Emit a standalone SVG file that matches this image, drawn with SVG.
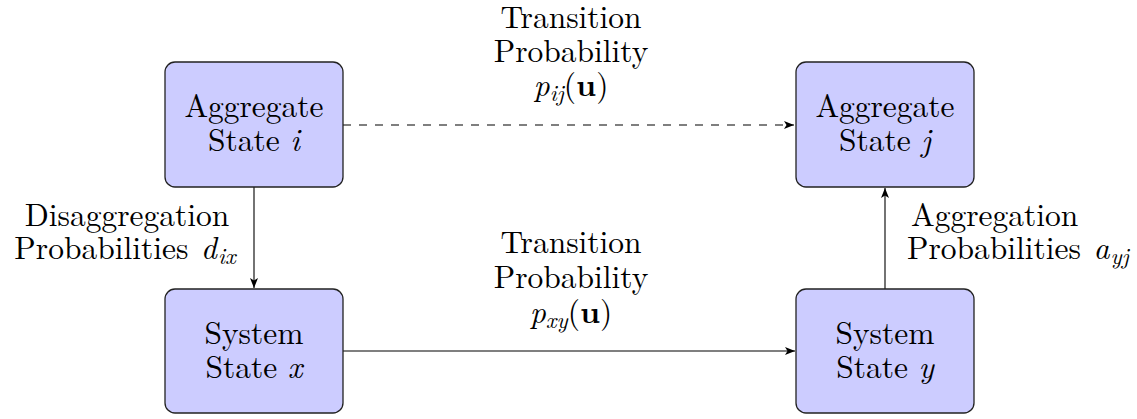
<svg xmlns="http://www.w3.org/2000/svg" width="1137" height="419" viewBox="0 0 1137 419">
<style>
.box{fill:#ccccff;stroke:#222;stroke-width:1.3}
.c{text-anchor:middle}
.i{font-style:italic}
.s{font-style:italic;font-size:23px}
.b{font-weight:bold}
.ln{stroke:#000;stroke-width:1.1;fill:none}
</style>
<defs>
<marker id="ah" viewBox="0 0 10 8" refX="10" refY="4" markerWidth="10" markerHeight="8" markerUnits="userSpaceOnUse" orient="auto">
<path d="M0,0 L10,4 L0,8 L2.5,4 Z" fill="#000"/>
</marker>
</defs>
<g id="connectors">
<line class="ln" x1="343" y1="125" x2="794" y2="125" stroke-dasharray="8 8" stroke="#333" marker-end="url(#ah)"/>
<line class="ln" x1="254" y1="187" x2="254" y2="288" marker-end="url(#ah)"/>
<line class="ln" x1="343" y1="351" x2="795" y2="351" marker-end="url(#ah)"/>
<line class="ln" x1="885" y1="289" x2="885" y2="188" marker-end="url(#ah)"/>
</g>
<g id="agg-i" font-family="Latin Modern Roman, Liberation Serif, serif" font-size="31.5">
<rect class="box" x="165" y="62" width="178" height="125" rx="10"/>
<text class="c" x="254" y="117" font-family="Latin Modern Roman, Liberation Serif, serif" font-size="31.5">Aggregate</text>
<text class="c" x="254" y="151" font-family="Latin Modern Roman, Liberation Serif, serif" font-size="31.5">State <tspan class="i">i</tspan></text>
</g>
<g id="agg-j" font-family="Latin Modern Roman, Liberation Serif, serif" font-size="31.5">
<rect class="box" x="796" y="62" width="178" height="125" rx="10"/>
<text class="c" x="885" y="117" font-family="Latin Modern Roman, Liberation Serif, serif" font-size="31.5">Aggregate</text>
<text class="c" x="885" y="151" font-family="Latin Modern Roman, Liberation Serif, serif" font-size="31.5">State <tspan class="i">j</tspan></text>
</g>
<g id="sys-x" font-family="Latin Modern Roman, Liberation Serif, serif" font-size="31.5">
<rect class="box" x="165" y="289" width="178" height="124" rx="10"/>
<text class="c" x="254" y="344" font-family="Latin Modern Roman, Liberation Serif, serif" font-size="31.5">System</text>
<text class="c" x="254" y="378" font-family="Latin Modern Roman, Liberation Serif, serif" font-size="31.5">State <tspan class="i">x</tspan></text>
</g>
<g id="sys-y" font-family="Latin Modern Roman, Liberation Serif, serif" font-size="31.5">
<rect class="box" x="796" y="289" width="178" height="124" rx="10"/>
<text class="c" x="885" y="344" font-family="Latin Modern Roman, Liberation Serif, serif" font-size="31.5">System</text>
<text class="c" x="885" y="378" font-family="Latin Modern Roman, Liberation Serif, serif" font-size="31.5">State <tspan class="i">y</tspan></text>
</g>
<g id="labels" font-family="Latin Modern Roman, Liberation Serif, serif" font-size="31.5">
<text class="c" x="571" y="28" font-family="Latin Modern Roman, Liberation Serif, serif" font-size="31.5">Transition</text>
<text class="c" x="571" y="62" font-family="Latin Modern Roman, Liberation Serif, serif" font-size="31.5">Probability</text>
<text class="c" x="571" y="96" font-family="Latin Modern Roman, Liberation Serif, serif" font-size="31.5"><tspan class="i">p</tspan><tspan class="s" dy="5">ij</tspan><tspan dy="-5">(</tspan><tspan class="b">u</tspan>)</text>
<text class="c" x="571" y="253" font-family="Latin Modern Roman, Liberation Serif, serif" font-size="31.5">Transition</text>
<text class="c" x="571" y="288" font-family="Latin Modern Roman, Liberation Serif, serif" font-size="31.5">Probability</text>
<text class="c" x="571" y="323" font-family="Latin Modern Roman, Liberation Serif, serif" font-size="31.5"><tspan class="i">p</tspan><tspan class="s" dy="5">xy</tspan><tspan dy="-5">(</tspan><tspan class="b">u</tspan>)</text>
<text class="c" x="127" y="226" font-family="Latin Modern Roman, Liberation Serif, serif" font-size="31.5">Disaggregation</text>
<text class="c" x="125" y="259" font-family="Latin Modern Roman, Liberation Serif, serif" font-size="31.5">Probabilities <tspan class="i" dx="2">d</tspan><tspan class="s" dy="5" dx="1">ix</tspan></text>
<text x="911" y="226" font-family="Latin Modern Roman, Liberation Serif, serif" font-size="31.5">Aggregation</text>
<text x="907" y="259" font-family="Latin Modern Roman, Liberation Serif, serif" font-size="31.5">Probabilities <tspan class="i" dx="2">a</tspan><tspan class="s" dy="5" dx="1">yj</tspan></text>
</g>
</svg>
